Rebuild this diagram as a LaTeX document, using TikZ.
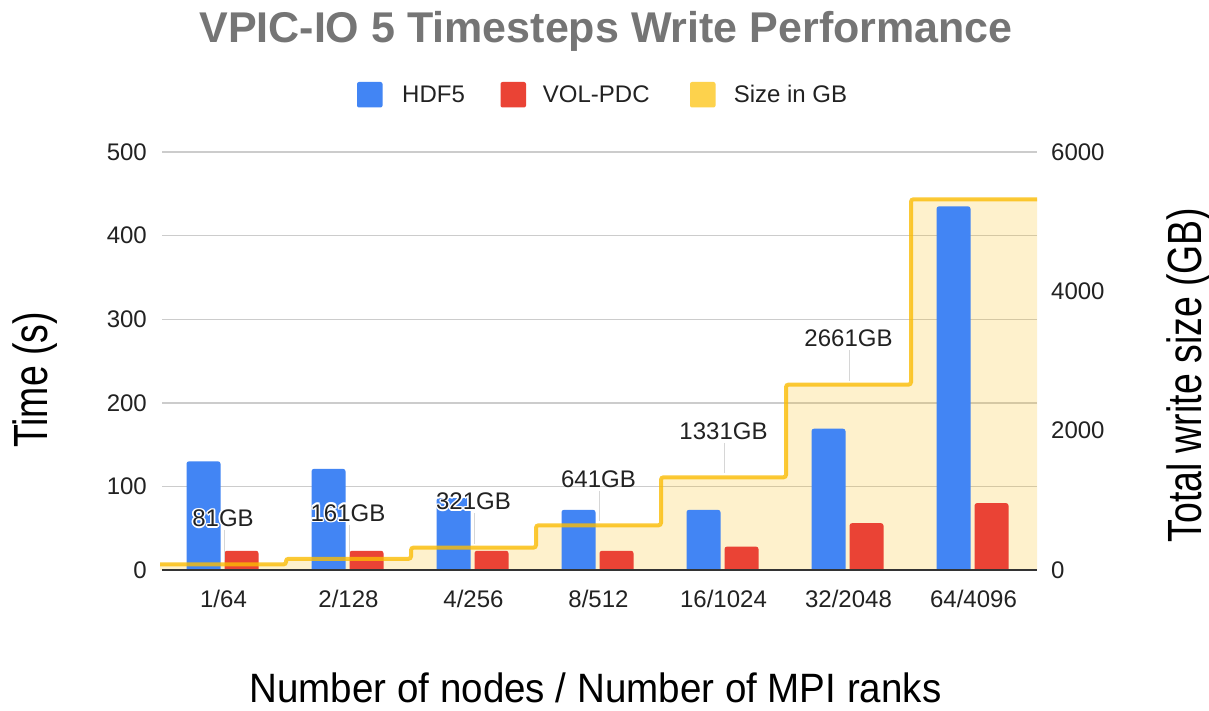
\documentclass[tikz,border=0pt]{standalone}
\usepackage{fontspec}
\setmainfont{Liberation Sans}
\definecolor{hdfblue}{HTML}{4285F4}
\definecolor{pdcred}{HTML}{EA4335}
\definecolor{sizeyellow}{HTML}{FBBC04}
\definecolor{legendyellow}{HTML}{FDD24C}
\definecolor{gridgray}{HTML}{CCCCCC}
\definecolor{titlegray}{HTML}{757575}
\definecolor{textdark}{HTML}{222222}
\definecolor{leadergray}{HTML}{D6D6D6}
\definecolor{axisdark}{HTML}{333333}
\tikzset{
  ticklabel/.style={inner sep=0pt, text=textdark, font=\fontsize{24}{28}\selectfont},
  datalabel/.style={inner sep=0pt, text=textdark, font=\fontsize{24}{28}\selectfont},
  axistitle/.style={inner sep=0pt, text=black, font=\fontsize{48}{54}\selectfont},
  legendkey/.style={rounded corners=2pt},
  gridline/.style={draw=gridgray, line width=1.4pt},
  leader/.style={draw=leadergray, line width=1pt},
  sizeline/.style={draw=sizeyellow, draw opacity=0.8, line width=4pt, rounded corners=2.5pt},
  sizearea/.style={fill=sizeyellow, fill opacity=0.2},
  hdfbar/.style={fill=hdfblue, rounded corners=2.5pt},
  pdcbar/.style={fill=pdcred, rounded corners=2.5pt},
}
% data label with a white halo, for labels lying over bars: name, x, y, text
\newcommand{\halolabel}[4]{%
  \foreach \dx/\dy in {-1.6/0,1.6/0,0/-1.6,0/1.6,-1.1/-1.1,1.1/1.1,-1.1/1.1,1.1/-1.1}
    {\node[datalabel, text=white] at (#2+\dx,#3+\dy) {#4};}
  \node[datalabel] (#1) at (#2,#3) {#4};}
\begin{document}
\begin{tikzpicture}[x=1pt, y=-1pt]
\useasboundingbox (0,0) rectangle (1209,711);
\fill[white] (0,0) rectangle (1209,711);

% title
\node[inner sep=0pt, anchor=base, text=titlegray, font=\fontsize{43}{48}\selectfont\bfseries] (title) at (606,42.5) {VPIC-IO 5 Timesteps Write Performance};

% legend
\fill[legendkey, hdfblue] (357,82) rectangle (382.5,107.5);
\node[ticklabel, anchor=base west] (lgA) at (402,102.7) {HDF5};
\fill[legendkey, pdcred] (500.5,82) rectangle (526,107.5);
\node[ticklabel, anchor=base west] (lgB) at (542.7,102.7) {VOL-PDC};
\fill[legendkey, legendyellow] (690,82) rectangle (715.5,107.5);
\node[ticklabel, anchor=base west] (lgC) at (733.6,102.7) {Size in GB};

% horizontal grid
\foreach \v in {1,...,5} {\draw[gridline] (162,570-83.6*\v) -- (1037,570-83.6*\v);}

% left axis ticks (time)
\foreach \v in {0,1,...,5} {\node[ticklabel, anchor=east] (yl\v) at (147,570-83.6*\v) {\the\numexpr\v*100\relax};}
% right axis ticks (size)
\foreach \v in {0,1,2,3} {\node[ticklabel, anchor=west] (yr\v) at (1051,570-139.33*\v) {\the\numexpr\v*2000\relax};}

% stepped area for write size
\fill[sizearea] (160,570) -- (160,564.4) -- (286,564.4) -- (286,558.8) -- (411,558.8) -- (411,547.6)
  -- (536,547.6) -- (536,525.3) -- (661,525.3) -- (661,477.3) -- (786,477.3) -- (786,384.6)
  -- (911,384.6) -- (911,199.3) -- (1037,199.3) -- (1037,570) -- cycle;

% bars
\begin{scope}
\clip (0,0) rectangle (1209,570);
\foreach \k/\h/\p in {0/130/23, 1/121/23, 2/86/23, 3/72/23, 4/72/28, 5/169/56, 6/435/80} {
  \pgfmathsetmacro{\c}{222.5+125*\k}
  \fill[hdfbar] (\c-36,575) rectangle (\c-2,570-0.836*\h);
  \fill[pdcbar] (\c+2,575) rectangle (\c+36,570-0.836*\p);
}
\end{scope}

% baseline
\draw[axisdark, line width=2pt] (162,570) -- (1037,570);

% step line
\draw[sizeline] (160,564.4) -- (286,564.4) -- (286,558.8) -- (411,558.8) -- (411,547.6)
  -- (536,547.6) -- (536,525.3) -- (661,525.3) -- (661,477.3) -- (786,477.3) -- (786,384.6)
  -- (911,384.6) -- (911,199.3) -- (1037,199.3);

% level points for the size labels
\coordinate (s1) at (224,564.4);
\coordinate (s2) at (349,558.8);
\coordinate (s3) at (474,547.6);
\coordinate (s4) at (599,525.3);
\coordinate (s5) at (724,477.3);
\coordinate (s6) at (849,384.6);

% size labels and their leaders
\halolabel{g1}{223}{518.4}{81GB}
\halolabel{g2}{348}{512.8}{161GB}
\halolabel{g3}{473.5}{501.6}{321GB}
\node[datalabel] (g4) at (598.5,479.3) {641GB};
\node[datalabel] (g5) at (723.5,431.3) {1331GB};
\node[datalabel] (g6) at (848.5,338.6) {2661GB};
\foreach \i in {1,...,6} {\draw[leader] ([yshift=-3pt]g\i.south -| s\i) -- ([yshift=4pt]s\i);}

% category labels
\foreach \k/\t in {0/1\slash 64, 1/2\slash 128, 2/4\slash 256, 3/8\slash 512, 4/16\slash 1024, 5/32\slash 2048, 6/64\slash 4096} {
  \node[ticklabel] (x\k) at (223.5+125*\k,599) {\t};
}

% axis titles
\node[axistitle, rotate=90, anchor=base] (ytitle) at (47,380) {\scalebox{0.78}[1]{Time (s)}};
\node[axistitle, rotate=90, anchor=base] (y2title) at (1201,375) {\scalebox{0.78}[1]{Total write size (GB)}};
\node[inner sep=0pt, anchor=base, font=\fontsize{41}{46}\selectfont] (xtitle) at (595.5,702) {\scalebox{0.94}[1]{Number of nodes / Number of MPI ranks}};
\end{tikzpicture}
\end{document}
